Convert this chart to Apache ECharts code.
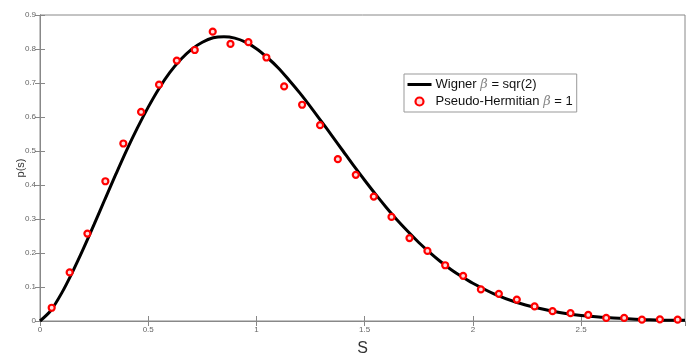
<!DOCTYPE html>
<html>
<head>
<meta charset="utf-8">
<script src="https://cdn.jsdelivr.net/npm/echarts@6/dist/echarts.min.js"></script>
<style>
html,body{margin:0;padding:0;background:#fff;}
#chart{width:686px;height:356px;}
</style>
</head>
<body>
<div id="chart"></div>
<script>
// Wigner curve
const curveS = [0, 0.05, 0.1, 0.15, 0.2, 0.25, 0.3, 0.35, 0.4, 0.45, 0.5, 0.55, 0.6, 0.65, 0.7, 0.75, 0.8, 0.85, 0.9, 0.95, 1.0, 1.05, 1.1, 1.15, 1.2, 1.25, 1.3, 1.35, 1.4, 1.45, 1.5, 1.55, 1.6, 1.65, 1.7, 1.75, 1.8, 1.85, 1.9, 1.95, 2.0, 2.1, 2.2, 2.3, 2.4, 2.5, 2.6, 2.7, 2.8, 2.9, 2.98];
const curveP = [0, 0.031, 0.082, 0.144, 0.212, 0.284, 0.358, 0.431, 0.502, 0.568, 0.629, 0.684, 0.731, 0.769, 0.799, 0.820, 0.833, 0.836, 0.832, 0.820, 0.801, 0.775, 0.745, 0.709, 0.671, 0.630, 0.587, 0.544, 0.500, 0.456, 0.414, 0.373, 0.334, 0.297, 0.263, 0.231, 0.202, 0.175, 0.151, 0.130, 0.111, 0.079, 0.055, 0.038, 0.025, 0.016, 0.011, 0.007, 0.004, 0.002, 0.002];
// Pseudo-Hermitian points
const pointS = [0.054, 0.137, 0.219, 0.302, 0.385, 0.467, 0.550, 0.632, 0.715, 0.798, 0.880, 0.963, 1.046, 1.128, 1.211, 1.294, 1.376, 1.459, 1.542, 1.624, 1.707, 1.790, 1.872, 1.955, 2.037, 2.120, 2.203, 2.285, 2.368, 2.451, 2.533, 2.616, 2.699, 2.781, 2.864, 2.946];
const pointP = [0.039, 0.143, 0.257, 0.411, 0.522, 0.615, 0.695, 0.766, 0.797, 0.851, 0.815, 0.820, 0.775, 0.690, 0.636, 0.576, 0.476, 0.430, 0.366, 0.306, 0.244, 0.206, 0.164, 0.133, 0.093, 0.080, 0.063, 0.043, 0.029, 0.023, 0.018, 0.009, 0.009, 0.004, 0.005, 0.004];
const xTicks = [0, 0.5, 1, 1.5, 2, 2.5];
const yTicks = [0, 0.1, 0.2, 0.3, 0.4, 0.5, 0.6, 0.7, 0.8, 0.9];

const lineName = 'Wigner {b|β} = sqr(2)';
const ptName = 'Pseudo-Hermitian {b|β} = 1';

const chart = echarts.init(document.getElementById('chart'));
const axisGray = '#888';
const labelStyle = {color: '#666', fontSize: 8, fontFamily: 'Liberation Sans'};
chart.setOption({
  animation: false,
  grid: {left: 40, top: 15, right: 1, bottom: 35, containLabel: false, outerBoundsMode: 'none',
    show: true, borderColor: axisGray, borderWidth: 1},
  xAxis: [{
    type: 'value', min: 0, max: 2.98, interval: 0.5,
    name: 'S', nameLocation: 'middle', nameGap: 20,
    nameTextStyle: {fontSize: 16, color: '#333', fontFamily: 'Liberation Sans'},
    axisLine: {lineStyle: {color: axisGray}},
    axisTick: {inside: true, length: 5, lineStyle: {color: axisGray}},
    axisLabel: Object.assign({margin: 5, showMaxLabel: false,
      formatter: v => xTicks.indexOf(v) >= 0 ? String(v) : ''}, labelStyle),
    splitLine: {show: false}
  }, {
    type: 'value', position: 'top', min: 0, max: 2.98, interval: 0.5,
    axisLine: {show: true, lineStyle: {color: axisGray}},
    axisTick: {inside: true, length: 5, lineStyle: {color: axisGray}},
    axisLabel: {show: false}, splitLine: {show: false}
  }],
  yAxis: [{
    type: 'value', min: 0, max: 0.9, interval: 0.1,
    name: 'p(s)', nameLocation: 'middle', nameGap: 14, nameMoveOverlap: false,
    nameTextStyle: {fontSize: 11, color: '#333', fontFamily: 'Liberation Sans'},
    axisLine: {show: true, lineStyle: {color: axisGray}},
    axisTick: {show: true, inside: true, length: 5, lineStyle: {color: axisGray}},
    axisLabel: Object.assign({margin: 4,
      formatter: v => { const t = yTicks.find(q => Math.abs(q - v) < 1e-9); return t === undefined ? '' : String(t); }}, labelStyle),
    splitLine: {show: false}
  }, {
    type: 'value', position: 'right', min: 0, max: 0.9, interval: 0.1,
    axisLine: {show: true, lineStyle: {color: axisGray}},
    axisTick: {show: true, inside: true, length: 5, lineStyle: {color: axisGray}},
    axisLabel: {show: false}, splitLine: {show: false}
  }],
  legend: {
    orient: 'vertical', left: 404, top: 74,
    backgroundColor: '#fff', borderColor: '#999', borderWidth: 1,
    padding: [4, 4, 4, 2], itemGap: 4, itemWidth: 24, itemHeight: 8,
    textStyle: {fontSize: 13, color: '#111', fontFamily: 'Liberation Sans', padding: [0,0,0,-1],
      rich: {b: {fontSize: 13, fontStyle: 'italic', fontFamily: 'DejaVu Serif', color: '#888'}}},
    data: [
      {name: lineName, itemStyle: {opacity: 0}, lineStyle: {color: '#000', width: 3, opacity: 1}},
      {name: ptName, icon: 'circle', itemStyle: {color: '#fdd', borderColor: '#f00', borderWidth: 2.2}}
    ]
  },
  series: [{
    name: lineName, type: 'line', smooth: 0.3, symbol: 'none',
    lineStyle: {color: '#000', width: 3},
    itemStyle: {color: '#000'},
    data: curveS.map((s, i) => [s, curveP[i]]), z: 2
  }, {
    name: ptName, type: 'scatter', symbol: 'circle', symbolSize: 6,
    itemStyle: {color: '#fdd', borderColor: '#f00', borderWidth: 2.2, opacity: 1},
    data: pointS.map((s, i) => [s, pointP[i]]), z: 3
  }]
});
</script>
</body>
</html>
